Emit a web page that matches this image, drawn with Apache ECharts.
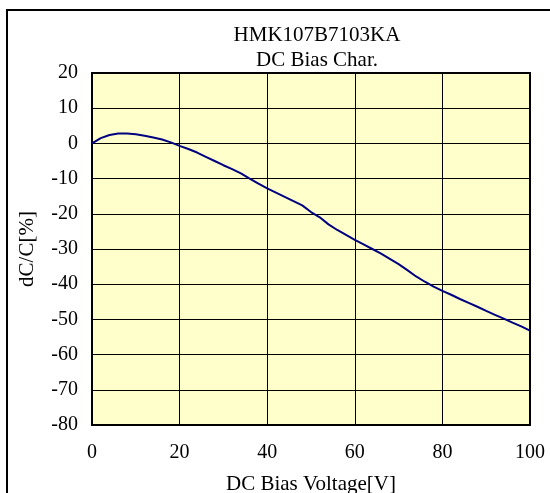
<!DOCTYPE html>
<html>
<head>
<meta charset="utf-8">
<script src="https://cdn.jsdelivr.net/npm/echarts@6/dist/echarts.min.js"></script>
<style>
html,body{margin:0;padding:0;background:#fff;}
#chart{width:550px;height:493px;}
</style>
</head>
<body>
<div id="chart"></div>
<script>
const titleLines = ["HMK107B7103KA", "DC Bias Char."];
const xAxisName = "DC Bias Voltage[V]";
const yAxisName = "dC/C[%]";
const voltage = [0, 2, 4, 6, 8, 10, 12, 14, 16, 18, 20, 22, 24, 26, 28, 30, 32, 34, 36, 38, 40, 42, 44, 46, 48, 50, 52, 54, 56, 58, 60, 62, 64, 66, 68, 70, 72, 74, 76, 78, 80, 82, 84, 86, 88, 90, 92, 94, 96, 98, 100];
const dcdc = [0, 1.5, 2.4, 2.8, 2.8, 2.6, 2.2, 1.7, 1.1, 0.3, -0.7, -1.6, -2.6, -3.8, -5.0, -6.2, -7.3, -8.5, -10.0, -11.4, -12.8, -14.0, -15.2, -16.4, -17.6, -19.5, -21.0, -23.0, -24.6, -26.0, -27.4, -28.7, -30.0, -31.3, -32.8, -34.3, -36.0, -37.8, -39.3, -40.7, -41.9, -43.0, -44.2, -45.3, -46.4, -47.6, -48.7, -49.8, -50.9, -52.0, -53.2];

const FONT = '"Liberation Serif", "Times New Roman", serif';
const chart = echarts.init(document.getElementById('chart'), null, {renderer: 'canvas'});
chart.setOption({
  backgroundColor: '#ffffff',
  animation: false,
  title: [
    {text: titleLines[0], left: 312, top: 20, textAlign: 'center',
     textStyle: {fontFamily: FONT, fontWeight: 'normal', fontSize: 21, color: '#000'}},
    {text: titleLines[1], left: 312, top: 45, textAlign: 'center',
     textStyle: {fontFamily: FONT, fontWeight: 'normal', fontSize: 21, color: '#000'}}
  ],
  graphic: [{
    type: 'rect', shape: {x: 7, y: 10, width: 700, height: 700},
    style: {fill: 'none', stroke: '#000', lineWidth: 2}, z: -1
  }],
  grid: {left: 92, top: 73, width: 438, height: 352, show: true,
         outerBoundsMode: 'none', containLabel: false,
         backgroundColor: '#FFFFCC', borderColor: '#000', borderWidth: 2},
  xAxis: {
    type: 'value', min: 0, max: 100, interval: 20,
    name: xAxisName, nameLocation: 'middle', nameGap: 49,
    nameTextStyle: {fontFamily: FONT, fontSize: 21, color: '#000'},
    axisLine: {show: false}, axisTick: {show: false},
    axisLabel: {fontFamily: FONT, fontSize: 20, color: '#000', margin: 18},
    splitLine: {show: true, lineStyle: {color: '#000', width: 1}}
  },
  yAxis: {
    type: 'value', min: -80, max: 20, interval: 10,
    name: yAxisName, nameLocation: 'middle', nameGap: 54,
    nameTextStyle: {fontFamily: FONT, fontSize: 21, color: '#000'},
    axisLine: {show: false}, axisTick: {show: false},
    axisLabel: {fontFamily: FONT, fontSize: 20, color: '#000', margin: 14},
    splitLine: {show: true, lineStyle: {color: '#000', width: 1}}
  },
  series: [{
    type: 'line', data: voltage.map((v, i) => [v, dcdc[i]]),
    showSymbol: false, smooth: false,
    lineStyle: {color: '#000080', width: 2}
  }]
});
</script>
</body>
</html>
